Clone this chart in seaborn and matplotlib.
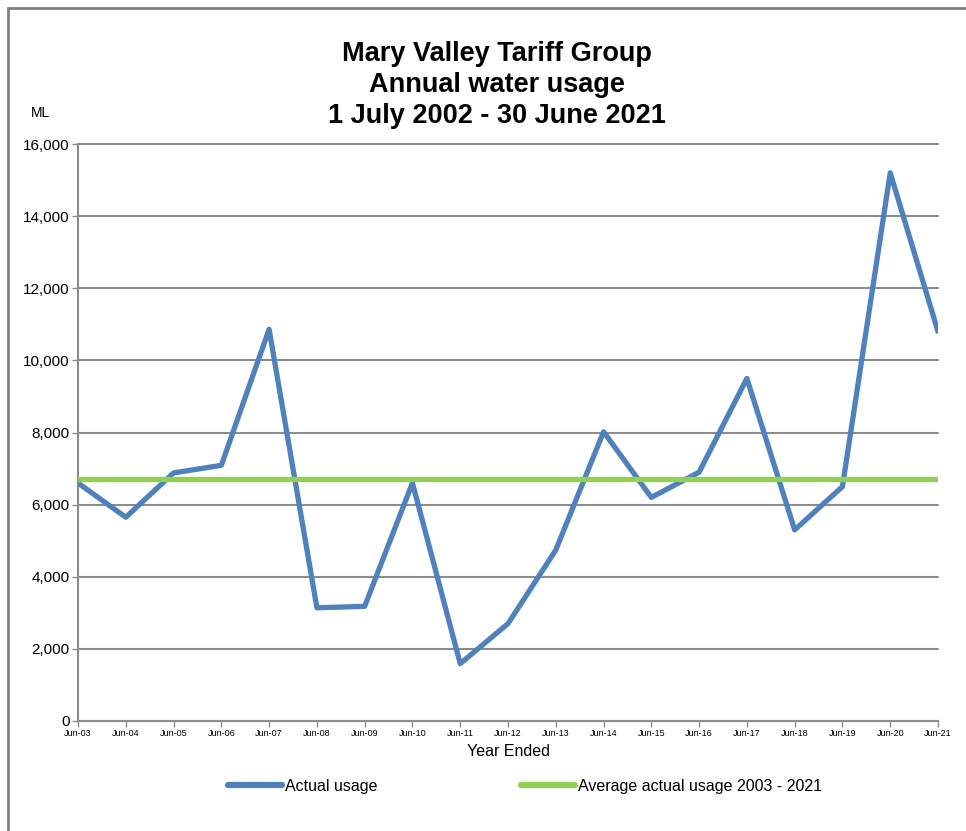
import pandas as pd
import matplotlib.pyplot as plt
import matplotlib.patches as mpatches
import seaborn as sns

# Data
years = ["Jun-03", "Jun-04", "Jun-05", "Jun-06", "Jun-07", "Jun-08", "Jun-09",
         "Jun-10", "Jun-11", "Jun-12", "Jun-13", "Jun-14", "Jun-15", "Jun-16",
         "Jun-17", "Jun-18", "Jun-19", "Jun-20", "Jun-21"]
actual_usage = [6600, 5650, 6880, 7090, 10860, 3140, 3180, 6600, 1590, 2700,
                4740, 8020, 6200, 6900, 9500, 5300, 6500, 15200, 10800]
average_usage = 6700
y_ticks = [0, 2000, 4000, 6000, 8000, 10000, 12000, 14000, 16000]

df = pd.DataFrame({
    "pos": range(len(years)),
    "Actual usage": actual_usage,
    "Average actual usage 2003 - 2021": [average_usage] * len(years),
})
long = df.melt(id_vars="pos", var_name="series", value_name="ML")

sns.set_style("white")
plt.rcParams["font.family"] = ["Liberation Sans", "DejaVu Sans"]
plt.rcParams["text.color"] = "black"
plt.rcParams["xtick.color"] = "black"
plt.rcParams["ytick.color"] = "black"
plt.rcParams["axes.labelcolor"] = "black"

fig = plt.figure(figsize=(9.66, 8.31), dpi=100)
W, H = 966, 831
ax = fig.add_axes([78 / W, 1 - 721 / H, (938 - 78) / W, (721 - 144) / H])

sns.lineplot(data=long, x="pos", y="ML", hue="series",
             palette={"Actual usage": "#4F81BD",
                      "Average actual usage 2003 - 2021": "#92D050"},
             linewidth=3.8, ax=ax, legend=False, zorder=3)

ax.set_xlim(0, len(years) - 1)
ax.set_ylim(0, 16000)
ax.set_xticks(range(len(years)))
ax.set_xticklabels(years, fontsize=6.5)
ax.set_yticks(y_ticks)
ax.set_yticklabels([f"{v:,}" for v in y_ticks], fontsize=11)
ax.yaxis.grid(True, color="#8c8c8c", linewidth=1.5, zorder=0)
for gl in ax.yaxis.get_gridlines():
    gl.set_clip_on(False)
ax.xaxis.grid(False)
for s in ["top", "right"]:
    ax.spines[s].set_visible(False)
for s in ["left", "bottom"]:
    ax.spines[s].set_color("#8c8c8c")
    ax.spines[s].set_linewidth(1.5)
ax.tick_params(axis="both", which="both", direction="out", length=4,
               color="#8c8c8c", labelcolor="black", width=1, pad=2,
               bottom=True, left=True)
ax.set_xlabel("Year Ended", fontsize=11.5, labelpad=4)
ax.set_ylabel("")

fig.text(497 / W, 1 - 85 / H,
         "Mary Valley Tariff Group\nAnnual water usage\n1 July 2002 - 30 June 2021",
         ha="center", va="center", fontsize=19.5, fontweight="bold",
         linespacing=1.24)
fig.text(40 / W, 1 - 113 / H, "ML", ha="center", va="center", fontsize=10)

handles = [plt.Line2D([], [], color="#4F81BD", linewidth=4.5),
           plt.Line2D([], [], color="#92D050", linewidth=4.5)]
fig.legend(handles, ["Actual usage", "Average actual usage 2003 - 2021"],
           loc="center", bbox_to_anchor=(525 / W, 1 - 786 / H), ncol=2,
           frameon=False, fontsize=11.5, handlelength=3.35, handletextpad=0.2,
           columnspacing=9)

# outer chart frame (only left and top visible in the original)
fig.patches.append(mpatches.Rectangle((8 / W, -0.1), 1.2, 1 - 8 / H + 0.1,
                                      transform=fig.transFigure, fill=False,
                                      edgecolor="#808080", linewidth=2))

fig.savefig("out.png", dpi=100)
